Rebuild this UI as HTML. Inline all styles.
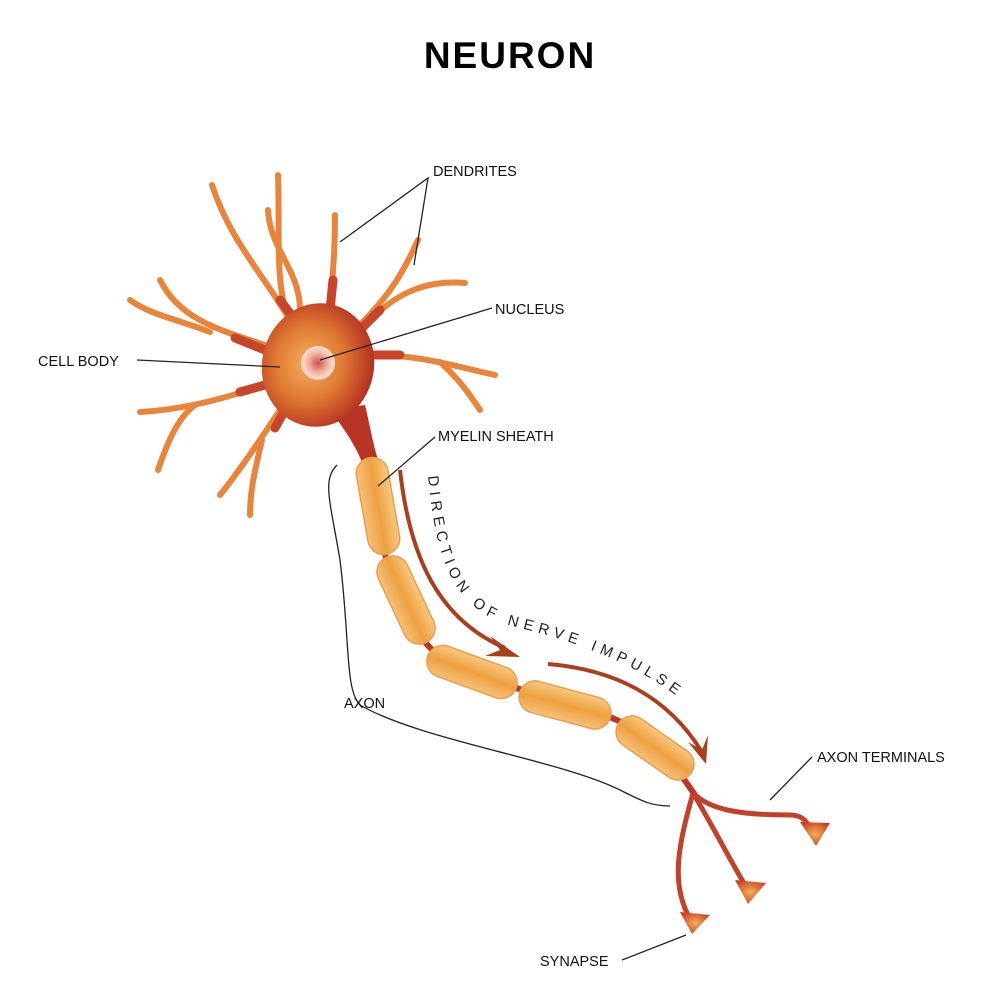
<!DOCTYPE html>
<html><head><meta charset="utf-8"><style>
html,body{margin:0;padding:0;background:#fff;}
svg{display:block;}
text{font-family:"Liberation Sans",sans-serif;}
</style></head><body>
<svg width="1000" height="993" viewBox="0 0 1000 993" xmlns="http://www.w3.org/2000/svg">
<defs>
<radialGradient id="body" cx="0.42" cy="0.5" r="0.6">
<stop offset="0" stop-color="#f4b060"/><stop offset="0.5" stop-color="#e07a32"/><stop offset="1" stop-color="#b02a20"/>
</radialGradient>
<radialGradient id="nuc" cx="0.5" cy="0.5" r="0.5">
<stop offset="0" stop-color="#d05050"/><stop offset="0.6" stop-color="#f0b0a0"/><stop offset="1" stop-color="#fbe0d0"/>
</radialGradient>
<linearGradient id="my" x1="0" y1="0" x2="0" y2="1">
<stop offset="0" stop-color="#f8c880"/><stop offset="0.5" stop-color="#eea040"/><stop offset="1" stop-color="#f6c078"/>
</linearGradient>
<radialGradient id="term" cx="0.5" cy="0.5" r="0.6">
<stop offset="0" stop-color="#f0b050"/><stop offset="1" stop-color="#c83828"/>
</radialGradient>
<path id="tp" d="M428,476 C436,560 452,612 520,628 C590,645 655,672 700,716"/>
</defs>

<text x="510" y="68" font-size="37" font-weight="bold" text-anchor="middle" letter-spacing="2">NEURON</text>

<!-- dendrites -->
<g fill="none" stroke-linecap="round">
<g stroke="#e8853a" stroke-width="6">
<path d="M290,320 C260,270 230,240 212,185"/>
<path d="M288,318 C275,280 280,240 278,175"/>
<path d="M300,310 C300,270 270,250 268,210"/>
<path d="M330,305 C335,260 335,230 335,215"/>
<path d="M355,330 C385,300 400,280 418,240"/>
<path d="M370,320 C400,290 430,280 465,283"/>
<path d="M370,355 C420,355 450,365 495,375"/>
<path d="M440,362 C460,380 470,395 480,410"/>
<path d="M265,345 C220,330 180,320 160,280"/>
<path d="M210,332 C180,320 150,315 130,300"/>
<path d="M265,385 C220,400 180,410 140,412"/>
<path d="M195,405 C175,420 165,450 158,470"/>
<path d="M280,410 C260,440 240,470 220,495"/>
<path d="M262,440 C255,470 250,490 250,515"/>
</g>
<g stroke="#c8452a" stroke-width="9">
<path d="M295,320 L280,300"/><path d="M330,310 L333,280"/><path d="M360,330 L380,310"/><path d="M372,355 L400,355"/><path d="M265,350 L235,338"/><path d="M265,385 L240,392"/><path d="M285,410 L275,428"/>
</g>
</g>

<path d="M330,410 C345,430 355,445 362,462 L378,460 C372,440 370,425 365,405 Z" fill="#b83424"/>
<ellipse cx="318" cy="365" rx="56" ry="62" transform="rotate(12 318 365)" fill="url(#body)"/>
<circle cx="318" cy="363" r="16" fill="url(#nuc)" stroke="#f6d6c6" stroke-width="2"/>

<path d="M370,460 C380,560 400,640 460,670 C520,695 600,700 660,745 L695,795" fill="none" stroke="#b83a26" stroke-width="6"/>
<g stroke="#e8a050" stroke-width="1.5" fill="url(#my)">
<rect x="-49" y="-16" width="98" height="32" rx="16" transform="translate(378,506) rotate(80)"/>
<rect x="-47" y="-16" width="94" height="32" rx="16" transform="translate(406,600) rotate(65)"/>
<rect x="-47" y="-16" width="94" height="32" rx="16" transform="translate(472,672) rotate(20)"/>
<rect x="-47" y="-16" width="94" height="32" rx="16" transform="translate(565,705) rotate(15)"/>
<rect x="-44" y="-16" width="88" height="32" rx="16" transform="translate(655,748) rotate(35)"/>
</g>

<g fill="none" stroke="#c0422a" stroke-width="5">
<path d="M693,793 C710,810 740,815 790,815 C805,815 808,825 810,828"/>
<path d="M693,793 C715,830 730,860 745,885"/>
<path d="M693,793 C680,840 670,880 688,915"/>
</g>
<g fill="url(#term)">
<path d="M800,822 L830,823 L816,846 Z"/>
<path d="M735,880 L766,883 L748,904 Z"/>
<path d="M680,912 L710,915 L692,934 Z"/>
</g>

<path d="M400,470 C410,560 440,620 505,648" fill="none" stroke="#a8401e" stroke-width="4"/>
<path d="M490,636 L520,657 L485,656 L500,650 Z" fill="#a8401e"/>
<path d="M548,664 C620,670 670,700 702,752" fill="none" stroke="#a8401e" stroke-width="4"/>
<path d="M688,742 L706,764 L708,735 L702,750 Z" fill="#a8401e"/>
<text font-size="15" letter-spacing="5.2" fill="#222"><textPath href="#tp">DIRECTION OF NERVE IMPULSE</textPath></text>

<path d="M337,465 C322,480 330,500 340,560 C350,640 345,690 360,705 C420,740 560,760 620,790 C640,800 650,806 670,806" fill="none" stroke="#222" stroke-width="1.3"/>

<g stroke="#222" stroke-width="1.3" fill="none">
<path d="M340,242 L428,178 L414,265"/>
<path d="M320,360 L492,308"/>
<path d="M137,360 L280,367"/>
<path d="M378,486 L435,437"/>
<path d="M770,800 L812,757"/>
<path d="M622,960 L686,935"/>
</g>

<g font-size="14.5" fill="#111">
<text x="433" y="176">DENDRITES</text>
<text x="495" y="314">NUCLEUS</text>
<text x="38" y="366">CELL BODY</text>
<text x="438" y="441">MYELIN SHEATH</text>
<text x="344" y="708">AXON</text>
<text x="817" y="762">AXON TERMINALS</text>
<text x="540" y="966">SYNAPSE</text>
</g>
</svg>
</body></html>
